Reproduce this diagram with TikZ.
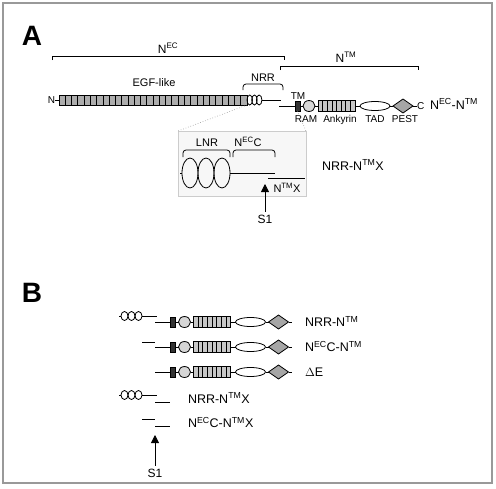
\documentclass[tikz,border=0pt]{standalone}
\usepackage{fontspec}
\setmainfont{Liberation Sans}
\usetikzlibrary{arrows.meta,positioning,shapes.geometric,calc}
\newcommand{\nec}{N\textsuperscript{EC}}
\newcommand{\ntm}{N\textsuperscript{TM}}

\begin{document}
\begin{tikzpicture}[x=1pt,y=-1pt,line width=0.8pt,node distance=3pt,
	every node/.style={inner sep=0pt,outer sep=0pt},
	panel/.style={font=\fontsize{28}{30}\selectfont\bfseries,anchor=base},
	construct/.style={font=\fontsize{12.5}{15}\selectfont,anchor=base west},
	dom/.style={font=\fontsize{11}{13}\selectfont,anchor=base},
	tag/.style={font=\fontsize{10}{12}\selectfont,anchor=base},
	site/.style={font=\fontsize{12}{14}\selectfont,inner sep=3pt},
	striped/.style={path picture={
		\foreach \k in {1,...,#1}
		\draw[line width=0.6pt] ($(path picture bounding box.south west)!{\k/(#1+1)}!(path picture bounding box.south east)$)
		-- ($(path picture bounding box.north west)!{\k/(#1+1)}!(path picture bounding box.north east)$);}},
	egfbar/.style={draw,fill=black!32,minimum width=188pt,minimum height=10pt,striped=29},
	lnr/.style={draw,ellipse,minimum width=5.5pt,minimum height=10pt},
	lnrB/.style={lnr,minimum width=7pt,minimum height=9pt},
	lnrbig/.style={lnr,minimum width=16pt,minimum height=30pt},
	tm/.style={draw,fill=black!80,minimum width=5pt,minimum height=10pt},
	ram/.style={draw,ellipse,fill=black!16,minimum width=12pt,minimum height=11pt},
	ank/.style={draw,fill=black!22,minimum width=37pt,minimum height=11pt,striped=7},
	tad/.style={draw,ellipse,fill=white,minimum width=30pt,minimum height=9pt},
	pest/.style={draw,diamond,fill=black!35,minimum width=20pt,minimum height=14pt},
	brace/.style={rounded corners=3pt},
	cut/.style={-{Triangle[width=8pt,length=8pt]}},
	zoomline/.style={dotted,black!45,line width=0.6pt}]

	% frame
	\useasboundingbox (0,0) rectangle (496,488);
	\draw[black!40,line width=1.2pt] (3,3) rectangle (492,483);

	% A: full-length receptor
	\node[panel] (labA) at (32,45) {A};
	\draw (52,60) -- (52,56) -- (284,56) -- (284,60);
	\node[dom,font=\fontsize{12}{14}\selectfont] (neclab) at (168,53) {\nec};
	\draw (280,70) -- (280,66) -- (418,66) -- (418,70);
	\node[dom,font=\fontsize{12}{14}\selectfont] (ntmlab) at (346,62) {\ntm};
	\node[dom] (egflab) at (154,86) {EGF-like};
	\draw[brace] (243,90) -- (243,84) -- (283,84) -- (283,90);
	\node[dom] (nrrlab) at (263,81) {NRR};

	% inset (drawn first, the zoom lines sit on top)
	\node[draw=black!20,fill=black!3,minimum width=128pt,minimum height=65pt] (inset) at (242,163.5) {};

	\node[egfbar] (egf) at (153,100) {};
	\node[tag] (nterm) [left=4pt of egf] {N};
	\node[lnr] (lnrA1) [right=0pt of egf] {};
	\node[lnr] (lnrA2) [right=-0.8pt of lnrA1] {};
	\node[lnr] (lnrA3) [right=-0.8pt of lnrA2] {};
	\coordinate (necA) at (281,100);
	\coordinate (ntmA) at (279,106);
	\node[tm] (tmA) at (297.5,106) {};
	\node[ram] (ramA) [right=of tmA] {};
	\node[ank] (ankA) [right=of ramA] {};
	\node[tad] (tadA) [right=5pt of ankA] {};
	\node[pest] (pestA) [right=of tadA] {};
	\node[tag] (ctermA) [right=4pt of pestA] {C};

	\path
	(nterm) edge (egf)
	(lnrA3) edge (necA)
	(ntmA) edge (tmA)
	(tmA) edge (ramA)
	(ramA) edge (ankA)
	(ankA) edge (tadA)
	(tadA) edge (pestA)
	(pestA) edge (ctermA)
	;

	\node[tag] (tmlabA) at (298,99) {TM};
	\node[tag] (ramlabA) at (306,122) {RAM};
	\node[tag] (anklabA) at (340,122) {Ankyrin};
	\node[tag] (tadlabA) at (375,122) {TAD};
	\node[tag] (pestlabA) at (405,122) {PEST};
	\node[construct] (fullA) at (430,109) {\nec-\ntm};

	\draw[zoomline] (egf.south east) -- (inset.north west);
	\draw[zoomline] (tmA.south) -- (inset.north east);

	% inset: NRR after S1 cleavage
	\coordinate (lnrI0) at (180,173);
	\node[lnrbig] (lnrI1) at (190,173) {};
	\node[lnrbig] (lnrI2) [right=0pt of lnrI1] {};
	\node[lnrbig] (lnrI3) [right=0pt of lnrI2] {};
	\coordinate (necI) at (275,173);
	\coordinate (ntmI1) at (268,178);
	\coordinate (ntmI2) at (305,178);
	\path (lnrI0) edge (lnrI1) (lnrI3) edge (necI) (ntmI1) edge (ntmI2);
	\draw[brace] (183,157) -- (183,150) -- (230,150) -- (230,157);
	\node[dom] (lnrlab) at (207,146) {LNR};
	\draw[brace] (233,157) -- (233,150) -- (275,150) -- (275,157);
	\node[dom] (necclab) at (248,146) {\nec C};
	\node[dom] (ntmxlab) at (287,192) {\ntm X};
	\node[construct] (nrrxA) at (322,170) {NRR-\ntm X};

	\coordinate (tipA) at (265,184);
	\node[site] (s1A) at (265,219) {S1};
	\draw[cut] (s1A) -- (tipA);

	% B: fragments
	\node[panel] (labB) at (32,302) {B};

	% NRR-NTM
	\coordinate (b1tick) at (119,316);
	\node[lnrB] (b1lnr1) at (124.5,316) {};
	\node[lnrB] (b1lnr2) [right=0pt of b1lnr1] {};
	\node[lnrB] (b1lnr3) [right=0pt of b1lnr2] {};
	\coordinate (b1nec) at (157,316);
	\coordinate (b1ntm) at (155,322);
	\node[tm] (b1tm) at (173,322) {};
	\node[ram] (b1ram) [right=of b1tm] {};
	\node[ank] (b1ank) [right=of b1ram] {};
	\node[tad] (b1tad) [right=5pt of b1ank] {};
	\node[pest] (b1pest) [right=of b1tad] {};
	\coordinate (b1end) at (292,322);
	\node[construct] (b1name) at (305,326.5) {NRR-\ntm};

	% NECC-NTM
	\coordinate (b2nec1) at (142,342);
	\coordinate (b2nec2) at (155,342);
	\coordinate (b2ntm) at (155,347);
	\node[tm] (b2tm) at (173,347) {};
	\node[ram] (b2ram) [right=of b2tm] {};
	\node[ank] (b2ank) [right=of b2ram] {};
	\node[tad] (b2tad) [right=5pt of b2ank] {};
	\node[pest] (b2pest) [right=of b2tad] {};
	\coordinate (b2end) at (292,347);
	\node[construct] (b2name) at (305,351.5) {\nec C-\ntm};

	% delta E
	\coordinate (b3ntm) at (155,372);
	\node[tm] (b3tm) at (173,372) {};
	\node[ram] (b3ram) [right=of b3tm] {};
	\node[ank] (b3ank) [right=of b3ram] {};
	\node[tad] (b3tad) [right=5pt of b3ank] {};
	\node[pest] (b3pest) [right=of b3tad] {};
	\coordinate (b3end) at (292,372);
	\node[construct] (b3name) at (305,376.5) {$\Delta$E};

	% NRR-NTMX
	\coordinate (b4tick) at (119,395);
	\node[lnrB] (b4lnr1) at (124.5,395) {};
	\node[lnrB] (b4lnr2) [right=0pt of b4lnr1] {};
	\node[lnrB] (b4lnr3) [right=0pt of b4lnr2] {};
	\coordinate (b4nec) at (157,395);
	\coordinate (b4ntm1) at (155,402);
	\coordinate (b4ntm2) at (170,402);
	\node[construct] (b4name) at (188,403) {NRR-\ntm X};

	% NECC-NTMX
	\coordinate (b5nec1) at (142,419);
	\coordinate (b5nec2) at (155,419);
	\coordinate (b5ntm1) at (155,426);
	\coordinate (b5ntm2) at (170,426);
	\node[construct] (b5name) at (188,427.5) {\nec C-\ntm X};

	\path
	(b1tick) edge (b1lnr1)
	(b1lnr3) edge (b1nec)
	(b1ntm) edge (b1tm)
	(b1tm) edge (b1ram)
	(b1ram) edge (b1ank)
	(b1ank) edge (b1tad)
	(b1tad) edge (b1pest)
	(b1pest) edge (b1end)
	(b2nec1) edge (b2nec2)
	(b2ntm) edge (b2tm)
	(b2tm) edge (b2ram)
	(b2ram) edge (b2ank)
	(b2ank) edge (b2tad)
	(b2tad) edge (b2pest)
	(b2pest) edge (b2end)
	(b3ntm) edge (b3tm)
	(b3tm) edge (b3ram)
	(b3ram) edge (b3ank)
	(b3ank) edge (b3tad)
	(b3tad) edge (b3pest)
	(b3pest) edge (b3end)
	(b4tick) edge (b4lnr1)
	(b4lnr3) edge (b4nec)
	(b4ntm1) edge (b4ntm2)
	(b5nec1) edge (b5nec2)
	(b5ntm1) edge (b5ntm2)
	;

	\coordinate (tipB) at (155,435);
	\node[site] (s1B) at (155,473) {S1};
	\draw[cut] (s1B) -- (tipB);
\end{tikzpicture}
\end{document}
